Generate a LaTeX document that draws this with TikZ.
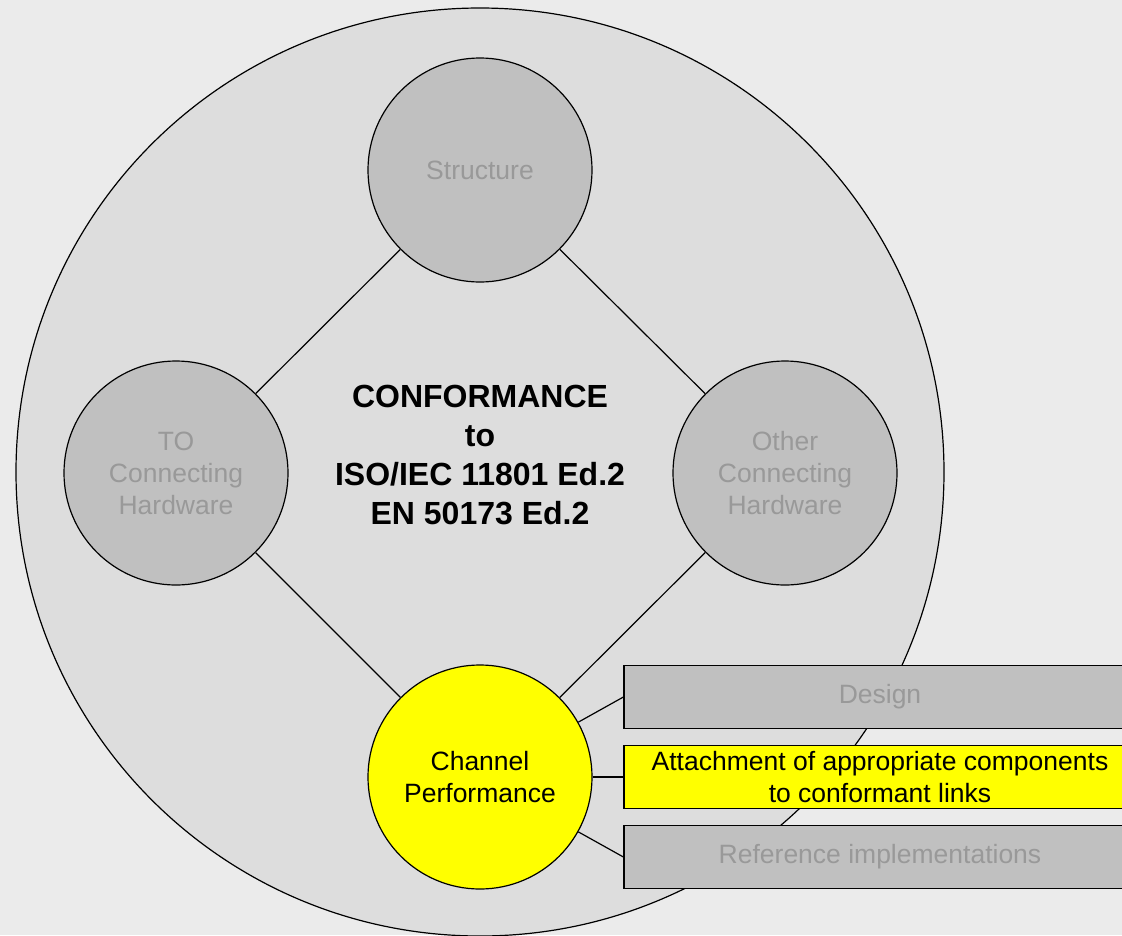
\documentclass[tikz,border=0pt]{standalone}
\usepackage{fontspec}
\setmainfont{Liberation Sans}
\definecolor{bgfill}{HTML}{EBEBEB}
\definecolor{ringfill}{HTML}{DDDDDD}
\definecolor{partfill}{HTML}{C0C0C0}
\definecolor{parttext}{HTML}{999999}
\definecolor{hilite}{HTML}{FFFF00}
\tikzstyle{part} = [circle, draw=black, line width=1.2pt, fill=partfill, minimum size=224pt, inner sep=0pt, align=center, text=parttext, font=\fontsize{26.5}{32}\selectfont]
\tikzstyle{bar} = [rectangle, draw=black, line width=1.2pt, fill=partfill, minimum width=512pt, minimum height=63pt, inner sep=0pt, align=center, text=parttext, font=\fontsize{26.5}{32}\selectfont]
\tikzstyle{link} = [line width=1.2pt]

\begin{document}
\begin{tikzpicture}[x=1pt, y=-1pt]
      \useasboundingbox (0,0) rectangle (1122,935);
      \clip (0,0) rectangle (1122,935);
      \fill[bgfill] (0,0) rectangle (1122,935);
      \filldraw[fill=ringfill, draw=black, line width=1.2pt] (480,472) circle (464pt);
      \node[part] (struct) at (480,170) {Structure};
      \node[part] (tohw) at (176,473) {TO\\Connecting\\Hardware};
      \node[part] (otherhw) at (785,473) {Other\\Connecting\\Hardware};
      \node[part, fill=hilite, text=black] (chan) at (480,777) {Channel\\Performance};
      \node[font=\bfseries\fontsize{32}{39}\selectfont, align=center] (conf) at (480,455) {CONFORMANCE\\to\\ISO/IEC 11801 Ed.2\\EN 50173 Ed.2};
      \draw[link] (struct) -- (tohw);
      \draw[link] (struct) -- (otherhw);
      \draw[link] (tohw) -- (chan);
      \draw[link] (otherhw) -- (chan);
      \node[bar] (design) at (880,697) {Design};
      \node[bar, fill=hilite, text=black] (attach) at (880,777) {Attachment of appropriate components\\to conformant links};
      \node[bar] (refimpl) at (880,857) {Reference implementations};
      \draw[link] (chan) -- (design.west);
      \draw[link] (chan) -- (attach.west);
      \draw[link] (chan) -- (refimpl.west);
    \end{tikzpicture}
\end{document}
